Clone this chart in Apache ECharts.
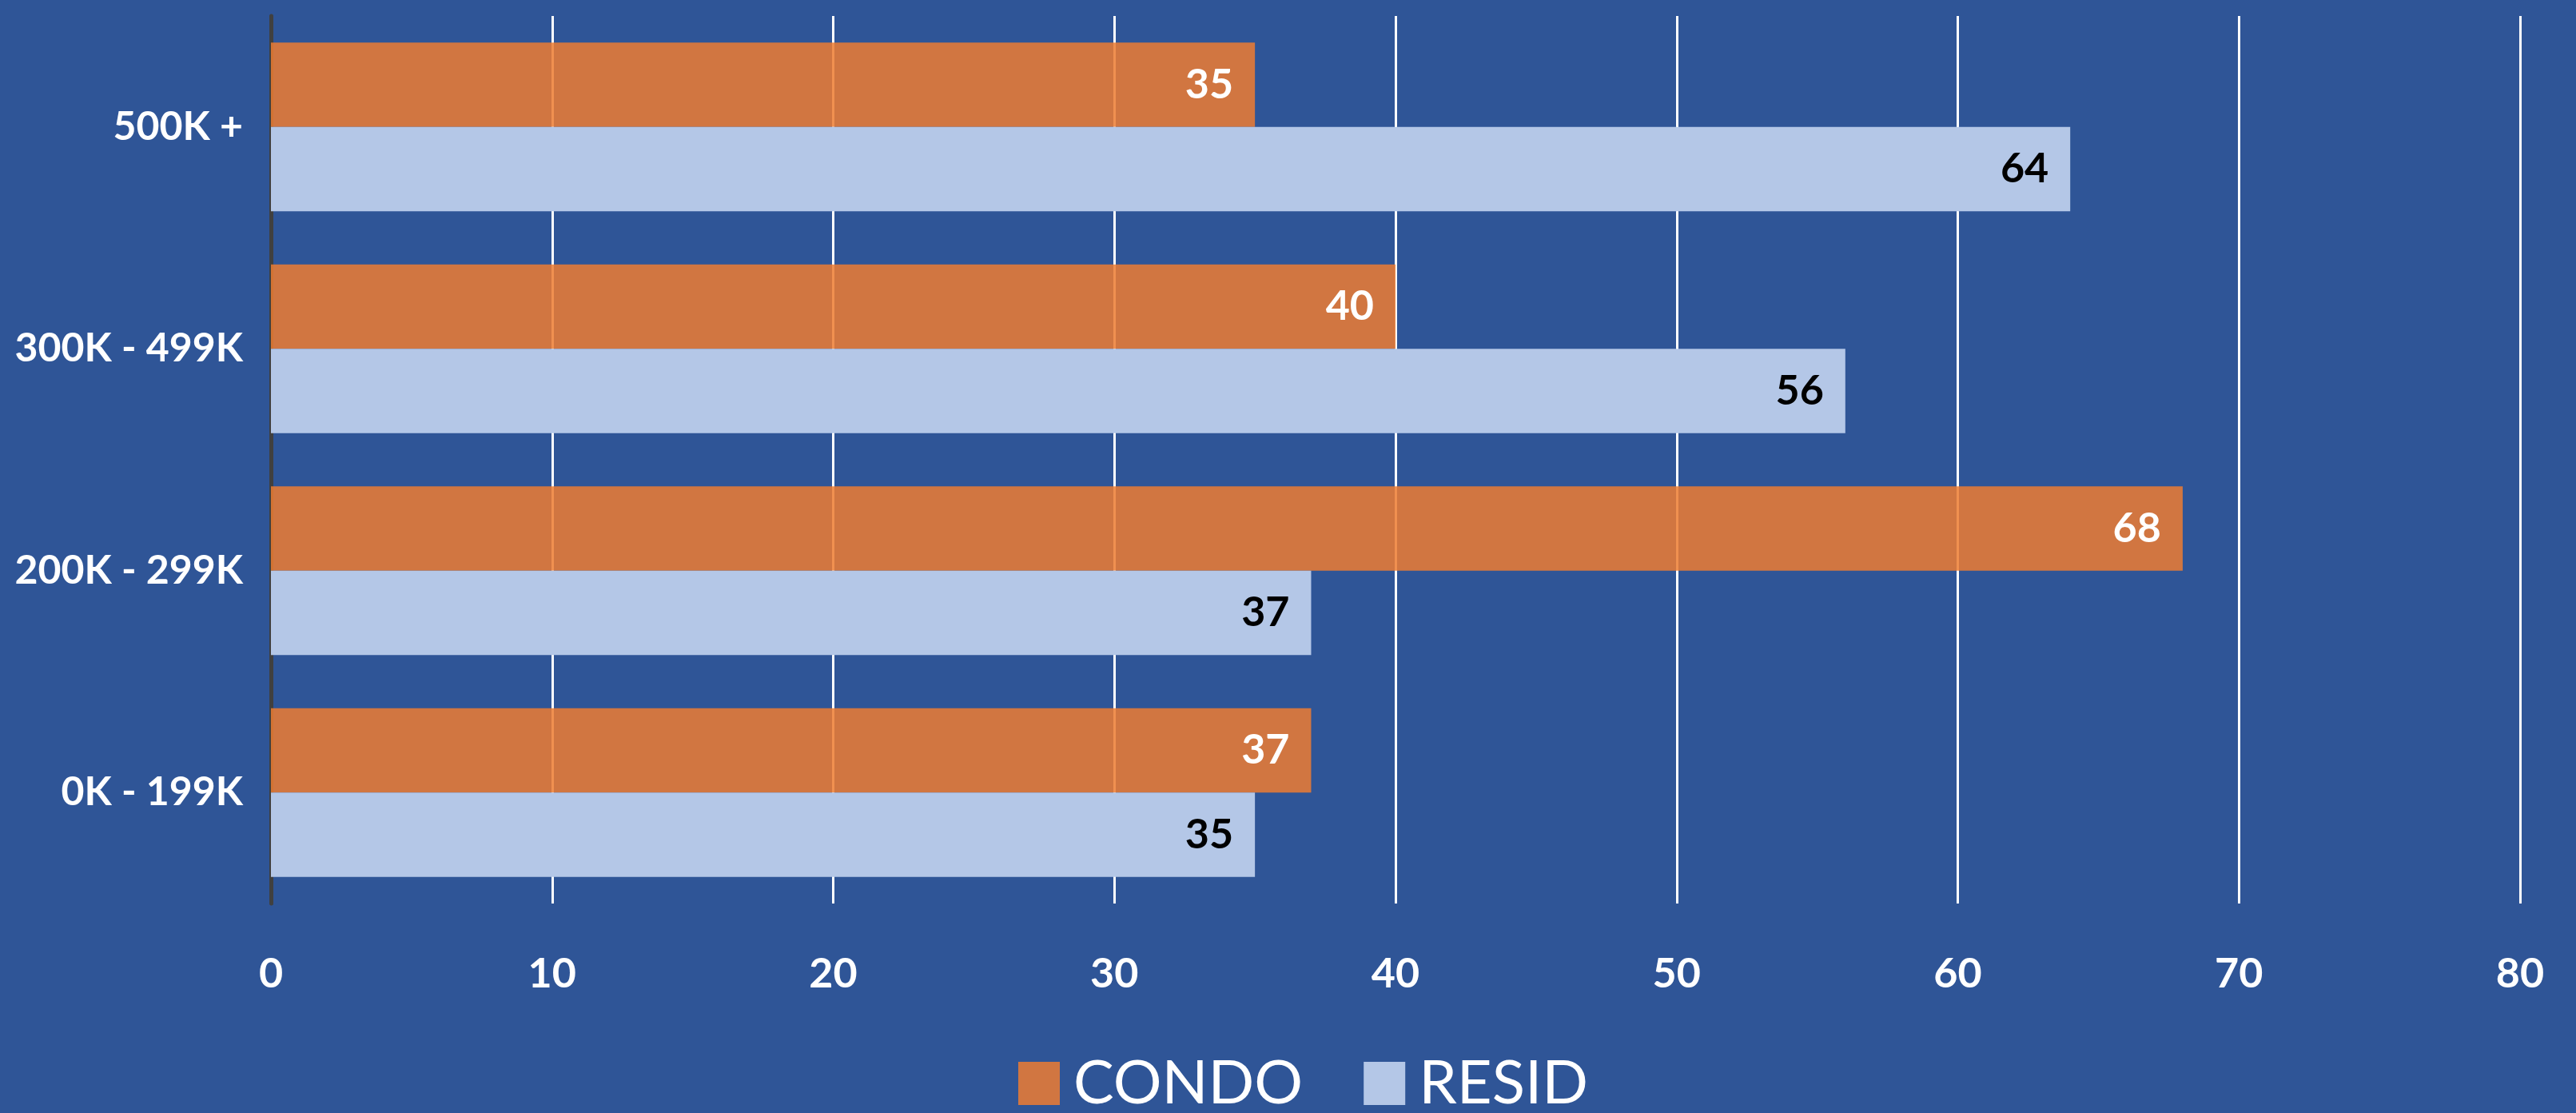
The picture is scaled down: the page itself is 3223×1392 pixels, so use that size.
<!DOCTYPE html>
<html>
<head>
<meta charset="utf-8">
<script src="https://cdn.jsdelivr.net/npm/echarts@6/dist/echarts.min.js"></script>
<style>
html, body { margin: 0; padding: 0; background: #2F5597; }
#chart { width: 3223px; height: 1392px; }
</style>
</head>
<body>
<div id="chart"></div>
<script>
// price bands, top to bottom
var categories = ['500K +', '300K - 499K', '200K - 299K', '0K - 199K'];
var condo = [35, 40, 68, 37];
var resid = [64, 56, 37, 35];
var xTicks = { min: 0, max: 80, interval: 10 };

var chart = echarts.init(document.getElementById('chart'));

var fontFam = 'Lato, "Noto Sans", sans-serif';

var option = {
    backgroundColor: '#2F5597',
    animation: false,
    grid: {
        left: 339,
        right: 70,
        top: 20,
        bottom: 262,
        containLabel: false,
        outerBoundsMode: 'none'
    },
    legend: {
        bottom: -6,
        left: 1269,
        itemWidth: 52,
        itemHeight: 54,
        itemGap: 76,
        icon: 'rect',
        textStyle: {
            color: '#ffffff',
            fontSize: 76,
            fontFamily: fontFam,
            padding: [0, 0, 0, 12]
        },
        data: ['CONDO', 'RESID']
    },
    xAxis: {
        type: 'value',
        min: xTicks.min,
        max: xTicks.max,
        interval: xTicks.interval,
        axisLine: { show: false },
        axisTick: { show: false },
        axisLabel: {
            color: '#ffffff',
            fontSize: 52,
            fontWeight: 'bold',
            fontFamily: fontFam,
            margin: 62
        },
        splitLine: {
            lineStyle: { color: '#ffffff', width: 3 }
        }
    },
    yAxis: {
        type: 'category',
        inverse: true,
        data: categories,
        axisLine: {
            lineStyle: { color: '#404040', width: 5 }
        },
        axisTick: { show: false },
        axisLabel: {
            color: '#ffffff',
            fontSize: 50,
            fontWeight: 'bold',
            fontFamily: fontFam,
            margin: 35
        }
    },
    series: [
        {
            name: 'CONDO',
            type: 'bar',
            data: condo,
            barGap: '0%',
            barCategoryGap: '24%',
            itemStyle: { color: 'rgba(237,125,49,0.85)' },
            label: {
                show: true,
                position: 'insideRight',
                distance: 27,
                color: '#ffffff',
                fontSize: 52,
                fontWeight: 'bold',
                fontFamily: fontFam
            }
        },
        {
            name: 'RESID',
            type: 'bar',
            data: resid,
            barGap: '0%',
            barCategoryGap: '24%',
            itemStyle: { color: '#B4C7E7' },
            label: {
                show: true,
                position: 'insideRight',
                distance: 27,
                color: '#000000',
                fontSize: 52,
                fontWeight: 'bold',
                fontFamily: fontFam
            }
        }
    ]
};

chart.setOption(option);
window.addEventListener('resize', chart.resize);
</script>
</body>
</html>
